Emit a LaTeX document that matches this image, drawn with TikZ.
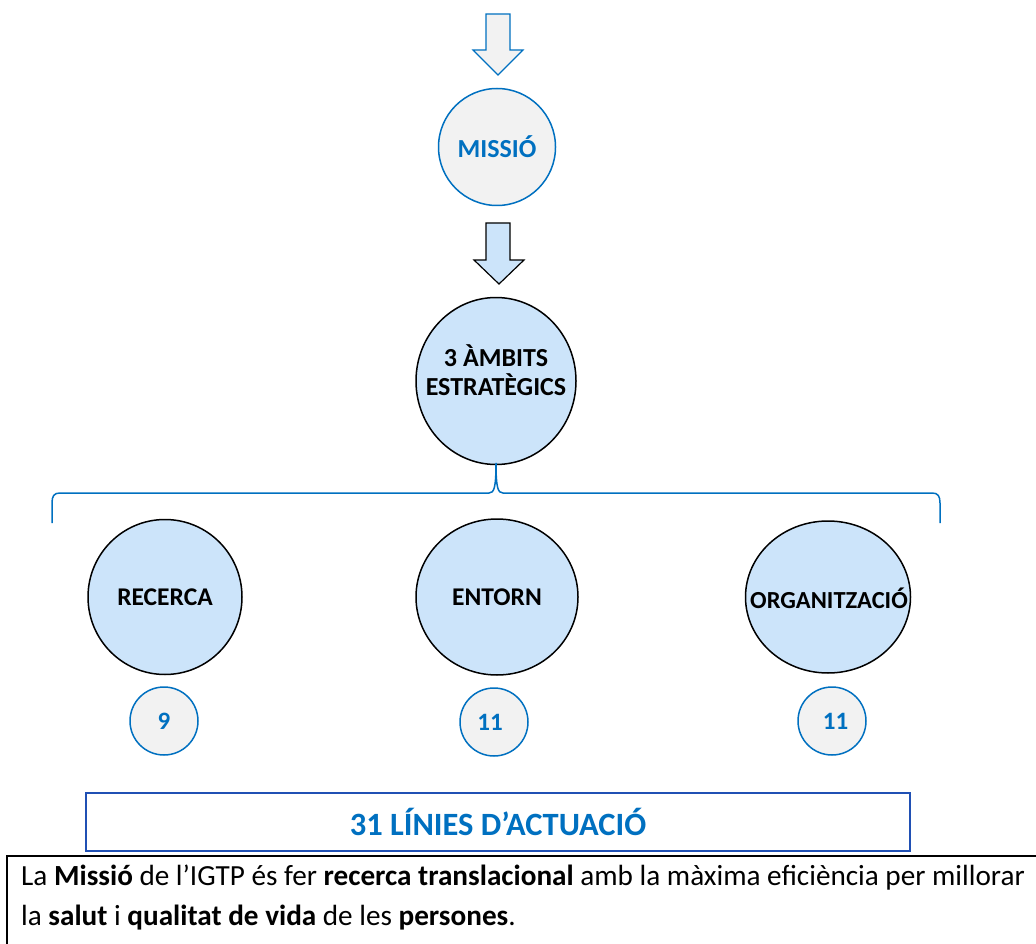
\documentclass[tikz,border=0pt]{standalone}
\usepackage{fontspec}
\setmainfont{Carlito}
\usetikzlibrary{shapes.geometric}
\definecolor{igtpblue}{RGB}{0,112,192}
\definecolor{boxblue}{RGB}{32,80,180}
\definecolor{ambitfill}{RGB}{204,228,250}
\definecolor{greyfill}{RGB}{242,242,242}

\begin{document}
\begin{tikzpicture}[x=1pt, y=-1pt,
    ambit/.style={ellipse, draw=black, line width=1.5pt, fill=ambitfill, inner sep=0pt},
    ambittext/.style={font=\fontsize{25.5}{30}\selectfont\bfseries, align=center},
    numcirc/.style={circle, draw=igtpblue, line width=1.5pt, fill=greyfill, minimum size=68pt, inner sep=0pt, font=\fontsize{25}{30}\selectfont\bfseries, text=igtpblue},
    bigarrow/.style={line width=1.2pt, line join=miter}]
    \useasboundingbox (0,0) rectangle (1036,944);

    \draw[bigarrow, draw=igtpblue, fill=greyfill] (486,14) -- (510,14) -- (510,50) -- (523,50) -- (498,75) -- (473,50) -- (486,50) -- cycle;
    \node[circle, draw=igtpblue, line width=1.5pt, fill=greyfill, minimum size=117pt, inner sep=0pt, text=igtpblue, font=\fontsize{26}{30}\selectfont\bfseries] (missio) at (497,147) {MISSIÓ};

    \draw[bigarrow, draw=black, fill=ambitfill] (486,223) -- (510,223) -- (510,260) -- (524,260) -- (499,284) -- (474,260) -- (486,260) -- cycle;
    \node[ambit, minimum width=160pt, minimum height=167pt] (ambits) at (496,381) {};
    \node[ambittext, font=\fontsize{26}{29}\selectfont\bfseries] (ambitstext) at (496,370) {3 ÀMBITS\\ESTRATÈGICS};

    \draw[igtpblue, line width=1.5pt] (52,523) -- (52,503) .. controls (52,496) and (54,493) .. (60,493) -- (489,493) .. controls (494,493) and (496,488) .. (496,463) .. controls (496,488) and (498,493) .. (503,493) -- (932,493) .. controls (938,493) and (940,496) .. (940,503) -- (940,523);

    \node[ambit, minimum width=154pt, minimum height=155pt] (recerca) at (165,597) {};
    \node[ambittext] (recercatext) at (recerca) {RECERCA};
    \node[ambit, minimum width=162pt, minimum height=156pt] (entorn) at (497,597) {};
    \node[ambittext] (entorntext) at (entorn) {ENTORN};
    \node[ambit, minimum width=165pt, minimum height=152pt] (org) at (828,597) {};
    \node[ambittext, font=\fontsize{24.5}{30}\selectfont\bfseries] (orgtext) at (829,598) {ORGANITZACIÓ};

    \node[numcirc] (n9) at (164,721) {9};
    \node[numcirc] (n11a) at (494,722) {\hspace*{-8pt}11};
    \node[numcirc] (n11b) at (832,721) {\hspace*{7pt}11};

    \node[draw=boxblue, line width=1.5pt, minimum width=824pt, minimum height=58pt, inner sep=0pt, text=igtpblue, font=\fontsize{32.5}{38}\selectfont\bfseries] (lines) at (498,822) {31 LÍNIES D’ACTUACIÓ};

    \draw[line width=1.5pt] (7,960) |- (1050,856);
    \node[anchor=north west, align=left, inner sep=0pt, font=\fontsize{29.2}{40}\selectfont] (mission) at (21,865) {La \textbf{Missió} de l’IGTP és fer \textbf{recerca translacional} amb la màxima eficiència per millorar\\la \textbf{salut} i \textbf{qualitat de vida} de les \textbf{persones}.};
\end{tikzpicture}
\end{document}
